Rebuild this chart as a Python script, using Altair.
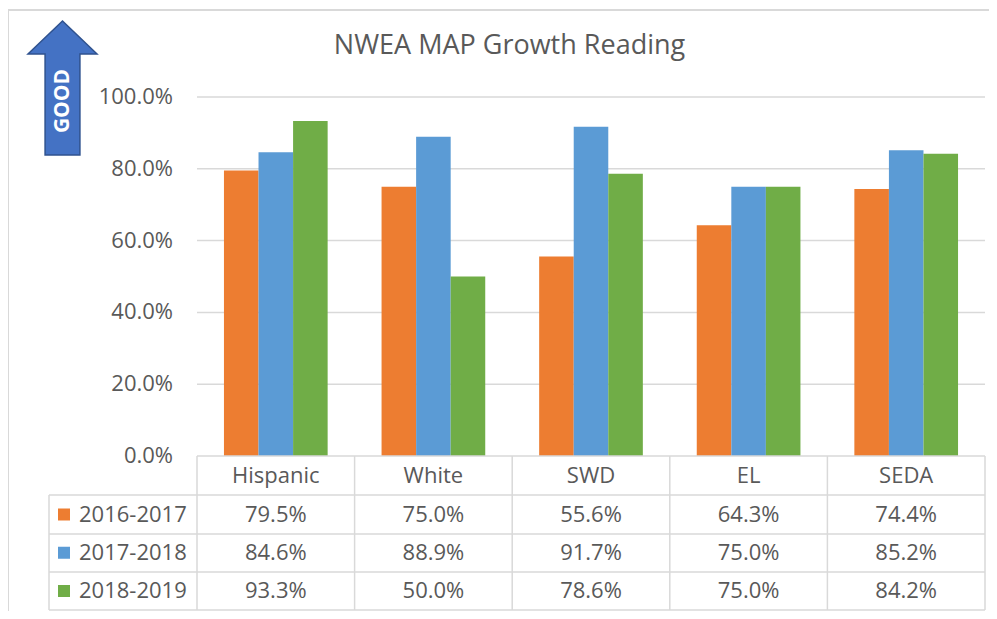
import altair as alt
import pandas as pd

# ---- data ----
CATS = ["Hispanic", "White", "SWD", "EL", "SEDA"]
SERIES = ["2016-2017", "2017-2018", "2018-2019"]
COLORS = ["#ED7D31", "#5B9BD5", "#70AD47"]
V_2016 = [0.795, 0.750, 0.556, 0.643, 0.744]
V_2017 = [0.846, 0.889, 0.917, 0.750, 0.852]
V_2018 = [0.933, 0.500, 0.786, 0.750, 0.842]
TICKS = [0.0, 0.2, 0.4, 0.6, 0.8, 1.0]
TITLE = "NWEA MAP Growth Reading"

rows = []
for s, vals in zip(SERIES, [V_2016, V_2017, V_2018]):
    for c, v in zip(CATS, vals):
        rows.append({"cat": c, "series": s, "value": v})
df = pd.DataFrame(rows)
ticks_df = pd.DataFrame({"tick": TICKS})
cats_df = pd.DataFrame({"cat": CATS})
series_df = pd.DataFrame({"series": SERIES})

# ---- layout (view pixels) ----
W, H = 981, 603
PX0, PX1 = 189, 977
Y0, Y100 = 448, 89
ROW_LINES = [487, 526, 564, 602]
ROW_CENTERS = [506.5, 583]
HEADER_Y = 467.5
LEG_X = 41
TXT = "#595959"
GRID = "#d9d9d9"
FONT = "Open Sans"

xscale = alt.Scale(domain=CATS, range=[PX0, PX1], paddingInner=0, paddingOuter=0)
yscale = alt.Scale(domain=[0, 1], range=[Y0, Y100], zero=True, nice=False)
rowscale = alt.Scale(type="point", domain=SERIES, range=ROW_CENTERS, padding=0)
cscale = alt.Scale(domain=SERIES, range=COLORS)

bars = alt.Chart(df).mark_bar().encode(
    x=alt.X("cat:N", scale=xscale, axis=None, sort=CATS),
    xOffset=alt.XOffset("series:N", scale=alt.Scale(domain=SERIES, paddingInner=0, paddingOuter=0.78)),
    y=alt.Y("value:Q", scale=yscale, axis=None),
    color=alt.Color("series:N", scale=cscale, legend=None),
)

grid = alt.Chart(ticks_df).transform_filter("datum.tick > 0").mark_rule(
    color=GRID, strokeWidth=1.5
).encode(
    y=alt.Y("tick:Q", scale=yscale, axis=None),
    x=alt.value(PX0), x2=alt.value(PX1),
)

ylabels = alt.Chart(ticks_df).mark_text(
    align="right", baseline="middle", font=FONT, fontSize=22, color=TXT
).encode(
    y=alt.Y("tick:Q", scale=yscale, axis=None),
    x=alt.value(165),
    text=alt.Text("tick:Q", format=".1%"),
)

# table lines
hl = pd.DataFrame({
    "y": [Y0] + ROW_LINES,
    "x0": [PX0] + [LEG_X] * len(ROW_LINES),
    "x1": [PX1] * (1 + len(ROW_LINES)),
})
hlines = alt.Chart(hl).mark_rule(color=GRID, strokeWidth=1.5).encode(
    y=alt.Y("y:Q", scale=None), x=alt.X("x0:Q", scale=None), x2="x1:Q"
)
vl = pd.DataFrame({"x": [LEG_X, PX1], "y0": [ROW_LINES[0], Y0], "y1": [ROW_LINES[-1], ROW_LINES[-1]]})
vlines = alt.Chart(vl).mark_rule(color=GRID, strokeWidth=1.5).encode(
    x=alt.X("x:Q", scale=None), y=alt.Y("y0:Q", scale=None), y2="y1:Q"
)
collines = alt.Chart(cats_df).mark_rule(color=GRID, strokeWidth=1.5).encode(
    x=alt.X("cat:N", scale=xscale, axis=None, bandPosition=0, sort=CATS),
    y=alt.value(Y0), y2=alt.value(ROW_LINES[-1]),
)

header = alt.Chart(cats_df).mark_text(
    align="center", baseline="middle", font=FONT, fontSize=22, color=TXT
).encode(
    x=alt.X("cat:N", scale=xscale, axis=None, sort=CATS),
    y=alt.value(HEADER_Y),
    text="cat:N",
)

cells = alt.Chart(df).mark_text(
    align="center", baseline="middle", font=FONT, fontSize=22, color=TXT
).encode(
    x=alt.X("cat:N", scale=xscale, axis=None, sort=CATS),
    y=alt.Y("series:N", scale=rowscale, axis=None),
    text=alt.Text("value:Q", format=".1%"),
)

leg_sq = alt.Chart(series_df).mark_square(size=144, opacity=1).encode(
    x=alt.value(56),
    y=alt.Y("series:N", scale=rowscale, axis=None),
    color=alt.Color("series:N", scale=cscale, legend=None),
)
leg_txt = alt.Chart(series_df).mark_text(
    align="left", baseline="middle", font=FONT, fontSize=22, color=TXT
).encode(
    x=alt.value(71),
    y=alt.Y("series:N", scale=rowscale, axis=None),
    text="series:N",
)

title = alt.Chart(pd.DataFrame({"t": [TITLE]})).mark_text(
    align="center", baseline="middle", font=FONT, fontSize=27, color=TXT
).encode(x=alt.value(501.5), y=alt.value(38), text="t:N")

ARROW = "M0,-1 L0.515,-0.507 L0.26,-0.507 L0.26,1 L-0.26,1 L-0.26,-0.507 L-0.515,-0.507 Z"
arrow = alt.Chart(pd.DataFrame({"a": ["GOOD"]})).mark_point(
    shape=ARROW, size=134 * 134, filled=True, fill="#4472C4", stroke="#2F528F",
    strokeWidth=1.5, opacity=1
).encode(x=alt.value(54.5), y=alt.value(80))
good = alt.Chart(pd.DataFrame({"a": ["GOOD"]})).mark_text(
    align="center", baseline="middle", font=FONT, fontSize=21, fontWeight="bold",
    color="white", angle=270
).encode(x=alt.value(55), y=alt.value(93), text="a:N")

frame = alt.Chart(pd.DataFrame({"x0": [0, 0], "x1": [W, 0], "y0": [2, 2], "y1": [2, H]})).mark_rule(
    color=GRID, strokeWidth=2
).encode(
    x=alt.X("x0:Q", scale=None), x2="x1:Q", y=alt.Y("y0:Q", scale=None), y2="y1:Q"
)

chart = alt.layer(
    frame, grid, bars, hlines, vlines, collines, ylabels, header, cells,
    leg_sq, leg_txt, title, arrow, good
).resolve_scale(y="independent").properties(
    width=W, height=H, padding=0, autosize="none", background="white"
).configure_view(stroke=None)

chart.save("out.html", embed_options={"renderer": "svg", "actions": False})
